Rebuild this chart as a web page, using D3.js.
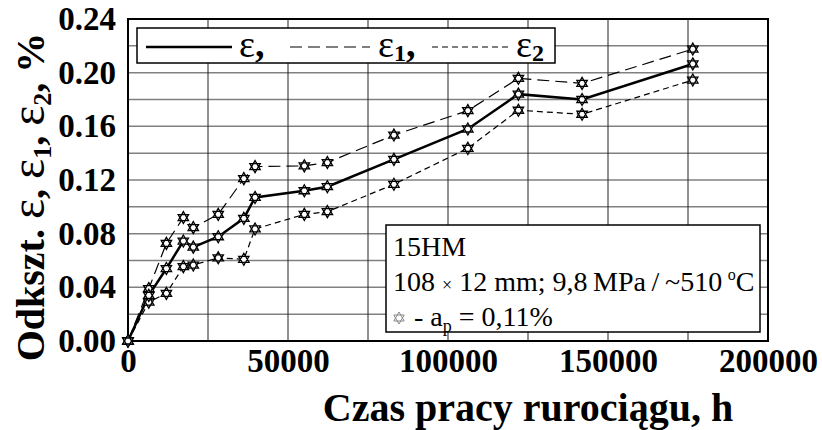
<!DOCTYPE html>
<html>
<head>
<meta charset="utf-8">
<script src="https://cdn.jsdelivr.net/npm/d3@7"></script>
<style>
  body { margin: 0; background: #fff; }
  text { font-family: "Liberation Serif", "Times New Roman", serif; }
</style>
</head>
<body>
<svg id="chart"></svg>
<script>
var width = 822;
var height = 430;

// data
var hours = [0, 6500, 12000, 17300, 20400, 28200, 36200, 39700, 55100, 62300, 83100, 106200, 122000, 141900, 176500];
var eps   = [0, 0.034, 0.054, 0.0745, 0.070, 0.0777, 0.0914, 0.107, 0.112, 0.115, 0.1354, 0.158, 0.184, 0.180, 0.2065];
var eps1  = [0, 0.039, 0.0728, 0.092, 0.0845, 0.0944, 0.121, 0.130, 0.1305, 0.133, 0.1535, 0.1717, 0.1958, 0.192, 0.2176];
var eps2  = [0, 0.029, 0.0355, 0.0554, 0.0566, 0.062, 0.0609, 0.0835, 0.0944, 0.0964, 0.1168, 0.1436, 0.172, 0.169, 0.1945];

var xTicks = [0, 50000, 100000, 150000, 200000];
var yTicks = [0, 0.04, 0.08, 0.12, 0.16, 0.20, 0.24];
var xGrid = d3.range(0, 200001, 25000);
var yGrid = d3.range(0, 0.2401, 0.02);

var pLeft = 128, pRight = 768, pTop = 19, pBottom = 341;

var svg = d3.select("#chart")
    .attr("width", width)
    .attr("height", height);

var xScale = d3.scaleLinear().domain([0, 200000]).range([pLeft, pRight]);
var yScale = d3.scaleLinear().domain([0, 0.24]).range([pBottom, pTop]);

// grid
svg.append("g")
  .selectAll("line")
  .data(yGrid)
  .enter()
  .append("line")
    .attr("x1", pLeft).attr("x2", pRight)
    .attr("y1", d => yScale(d)).attr("y2", d => yScale(d))
    .attr("stroke", "#808080")
    .attr("stroke-width", 1.5);

svg.append("g")
  .selectAll("line")
  .data(xGrid)
  .enter()
  .append("line")
    .attr("x1", d => xScale(d)).attr("x2", d => xScale(d))
    .attr("y1", pTop).attr("y2", pBottom)
    .attr("stroke", "#222")
    .attr("stroke-width", 1);

// frame
svg.append("rect")
    .attr("x", pLeft).attr("y", pTop)
    .attr("width", pRight - pLeft).attr("height", pBottom - pTop)
    .attr("fill", "none")
    .attr("stroke", "#000")
    .attr("stroke-width", 2);

// axes (labels only, the frame draws the lines)
var xAxis = d3.axisBottom(xScale).tickValues(xTicks).tickSize(0).tickPadding(8).tickFormat(d3.format("d"));
var yAxis = d3.axisLeft(yScale).tickValues(yTicks).tickSize(0).tickPadding(12).tickFormat(d3.format(".2f"));

var gx = svg.append("g").attr("transform", "translate(0," + pBottom + ")").call(xAxis);
var gy = svg.append("g").attr("transform", "translate(" + pLeft + ",0)").call(yAxis);
[gx, gy].forEach(function(g) {
  g.select(".domain").remove();
  g.selectAll("text")
    .attr("fill", "#000")
    .style("font-family", "'Liberation Serif', serif")
    .style("font-weight", "bold")
    .style("font-size", "33px");
});

// lines
var line = d3.line().x((d, i) => xScale(hours[i])).y(d => yScale(d));

var series = [
  { values: eps2, width: 1.2, dash: "6,4" },
  { values: eps1, width: 1.2, dash: "12,6" },
  { values: eps,  width: 2.5, dash: null }
];

svg.append("g")
  .selectAll("path")
  .data(series)
  .enter()
  .append("path")
    .attr("d", d => line(d.values))
    .attr("fill", "none")
    .attr("stroke", "#000")
    .attr("stroke-width", d => d.width)
    .attr("stroke-dasharray", d => d.dash);

// six-pointed star marker
function star6(r) {
  var p = d3.path();
  for (var t = 0; t < 2; t++) {
    for (var k = 0; k < 3; k++) {
      var a = -Math.PI / 2 + t * Math.PI / 3 + k * 2 * Math.PI / 3;
      if (k == 0) p.moveTo(r * Math.cos(a), r * Math.sin(a));
      else p.lineTo(r * Math.cos(a), r * Math.sin(a));
    }
    p.closePath();
  }
  return p.toString();
}

series.forEach(function(s) {
  svg.append("g")
    .selectAll("path")
    .data(s.values)
    .enter()
    .append("path")
      .attr("d", star6(6))
      .attr("transform", (d, i) => "translate(" + xScale(hours[i]) + "," + yScale(d) + ")")
      .attr("fill", "#fff")
      .attr("stroke", "#000")
      .attr("stroke-width", 1.3);
});

// legend
var lg = svg.append("g");
lg.append("rect")
    .attr("x", 137).attr("y", 28)
    .attr("width", 418).attr("height", 35)
    .attr("fill", "#fff")
    .attr("stroke", "#000")
    .attr("stroke-width", 1.5);

var legendItems = [
  { x1: 146, x2: 232, tx: 239, dash: null, w: 2.5, sub: "", tail: "," },
  { x1: 290, x2: 370, tx: 378, dash: "12,6", w: 1.2, sub: "1", tail: "," },
  { x1: 432, x2: 512, tx: 516, dash: "6,4", w: 1.2, sub: "2", tail: "" }
];
legendItems.forEach(function(it) {
  lg.append("line")
      .attr("x1", it.x1).attr("x2", it.x2)
      .attr("y1", 47).attr("y2", 47)
      .attr("stroke", "#000")
      .attr("stroke-width", it.w)
      .attr("stroke-dasharray", it.dash);
  var t = lg.append("text")
      .attr("x", it.tx).attr("y", 57)
      .style("font-size", "38px");
  t.append("tspan").text("ε");
  if (it.sub) t.append("tspan").attr("font-size", "24px").attr("font-weight", "bold").attr("dy", 4).text(it.sub);
  if (it.tail) t.append("tspan").attr("font-weight", "bold").attr("dy", it.sub ? -4 : 0).text(it.tail);
});

// info box
var ib = svg.append("g");
ib.append("rect")
    .attr("x", 386).attr("y", 225)
    .attr("width", 374).attr("height", 107)
    .attr("fill", "#fff")
    .attr("stroke", "#000")
    .attr("stroke-width", 1.5);

ib.append("text").attr("x", 393).attr("y", 256).style("font-size", "28px").text("15HM");
var l2 = ib.append("text").attr("x", 393).attr("y", 291).style("font-size", "28px");
l2.append("tspan").text("108 ");
l2.append("tspan").style("font-size", "18px").text("×");
l2.append("tspan").text(" 12 mm; 9,8\u2009MPa\u2009/\u2009~510\u2009");
l2.append("tspan").style("font-size", "16px").attr("dy", -11).text("o");
l2.append("tspan").attr("dy", 11).text("C");

ib.append("path")
    .attr("d", star6(6))
    .attr("transform", "translate(399,318)")
    .attr("fill", "#fff")
    .attr("stroke", "#888")
    .attr("stroke-width", 1);
var l3 = ib.append("text").attr("x", 414).attr("y", 326).style("font-size", "28px");
l3.append("tspan").text("- a");
l3.append("tspan").style("font-size", "18px").attr("dy", 6).text("p");
l3.append("tspan").attr("dy", -6).text(" = 0,11%");

// axis titles
svg.append("text")
    .attr("x", 528).attr("y", 421)
    .style("text-anchor", "middle")
    .style("font-weight", "bold")
    .style("font-size", "40px")
    .text("Czas pracy rurociągu, h");

var yt = svg.append("text")
    .attr("transform", "translate(44,197) rotate(-90)")
    .style("text-anchor", "middle")
    .style("font-weight", "bold")
    .style("font-size", "40px");
yt.append("tspan").text("Odkszt. ");
yt.append("tspan").style("font-weight", "normal").style("font-size", "48px").text("ε");
yt.append("tspan").text(", ");
yt.append("tspan").style("font-weight", "normal").style("font-size", "48px").text("ε");
yt.append("tspan").style("font-size", "26px").attr("dy", 7).text("1");
yt.append("tspan").attr("dy", -7).text(", ");
yt.append("tspan").style("font-weight", "normal").style("font-size", "48px").text("ε");
yt.append("tspan").style("font-size", "26px").attr("dy", 7).text("2");
yt.append("tspan").attr("dy", -7).text(", %");
</script>
</body>
</html>
